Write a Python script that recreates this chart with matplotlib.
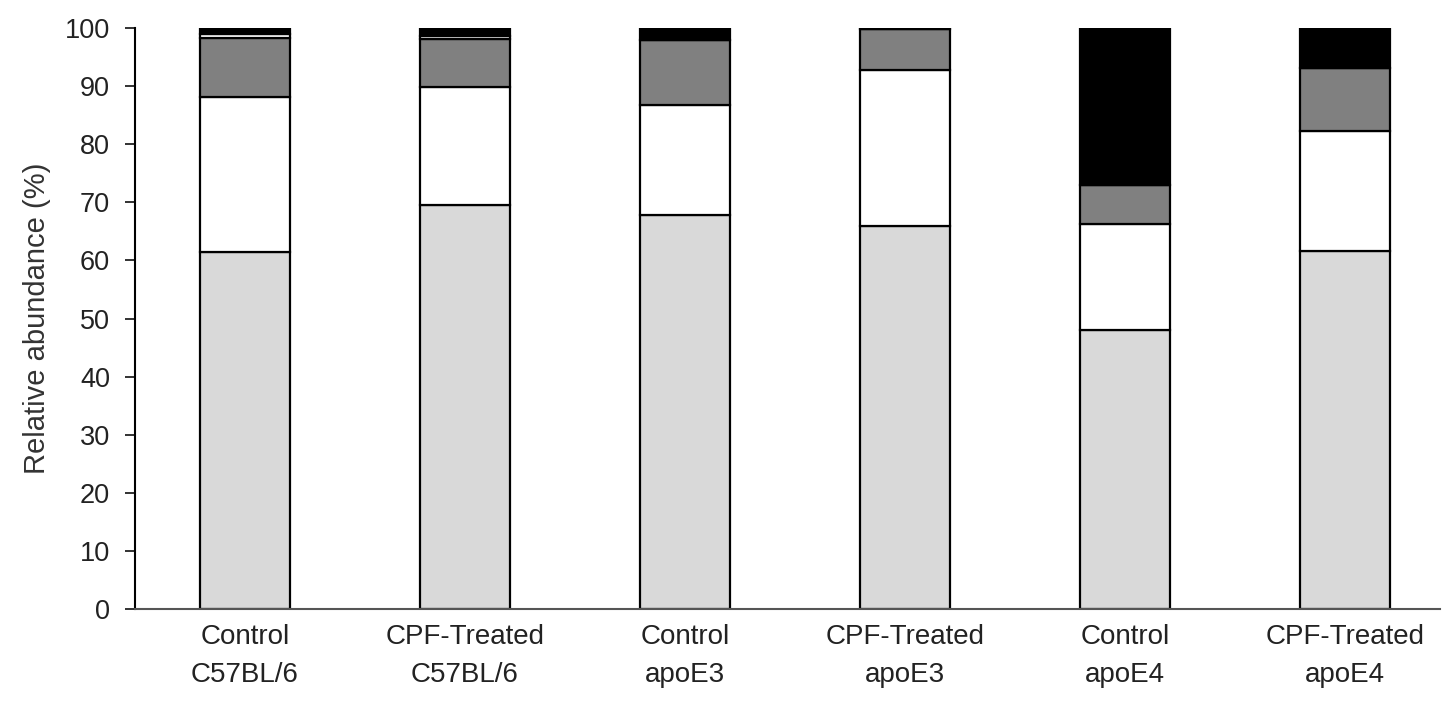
import numpy as np
import matplotlib.pyplot as plt

plt.rcParams['font.family'] = ['Liberation Sans', 'DejaVu Sans']

groups = ["Control\nC57BL/6", "CPF-Treated\nC57BL/6", "Control\napoE3",
          "CPF-Treated\napoE3", "Control\napoE4", "CPF-Treated\napoE4"]

# stacked segments, bottom to top (percent)
seg_light = [61.5, 69.5, 67.8, 66.0, 48.0, 61.7]
seg_white = [26.6, 20.4, 18.9, 26.8, 18.3, 20.5]
seg_dark = [10.2, 8.2, 11.2, 7.0, 6.7, 10.9]
seg_thin = [0.6, 0.5, 0.0, 0.0, 0.0, 0.0]
seg_black = [1.1, 1.4, 2.1, 0.2, 27.0, 6.9]

segments = [seg_light, seg_white, seg_dark, seg_thin, seg_black]
colors = ["#d9d9d9", "#ffffff", "#808080", "#ffffff", "#000000"]

fig = plt.figure(figsize=(14.45, 7.01), dpi=100)
ax = fig.add_axes([0.0934, 0.1312, 0.9031, 0.8288])

x = np.arange(len(groups))
bottom = np.zeros(len(groups))
for vals, c in zip(segments, colors):
    vals = np.array(vals)
    ax.bar(x, vals, 0.41, bottom=bottom, color=c, edgecolor="black",
           linewidth=1.6, zorder=2)
    bottom += vals

ax.set_xlim(-0.5, 5.43)
ax.set_ylim(0, 100)
ax.set_yticks(np.arange(0, 101, 10))
ax.set_xticks(x)
ax.set_xticklabels(groups, fontsize=20, color="#222222", linespacing=1.6)
ax.tick_params(axis="x", length=0, pad=11)
ax.tick_params(axis="y", length=7, width=1.3, direction="out", labelsize=19.5,
               colors="#222222", pad=11)
ax.set_ylabel("Relative abundance (%)", fontsize=21, color="#333333", labelpad=10)

for s in ["top", "right"]:
    ax.spines[s].set_visible(False)
ax.spines["left"].set_linewidth(1.5)
ax.spines["bottom"].set_linewidth(1.5)
ax.spines["bottom"].set_color("#555555")

fig.savefig("out.png", dpi=100)
